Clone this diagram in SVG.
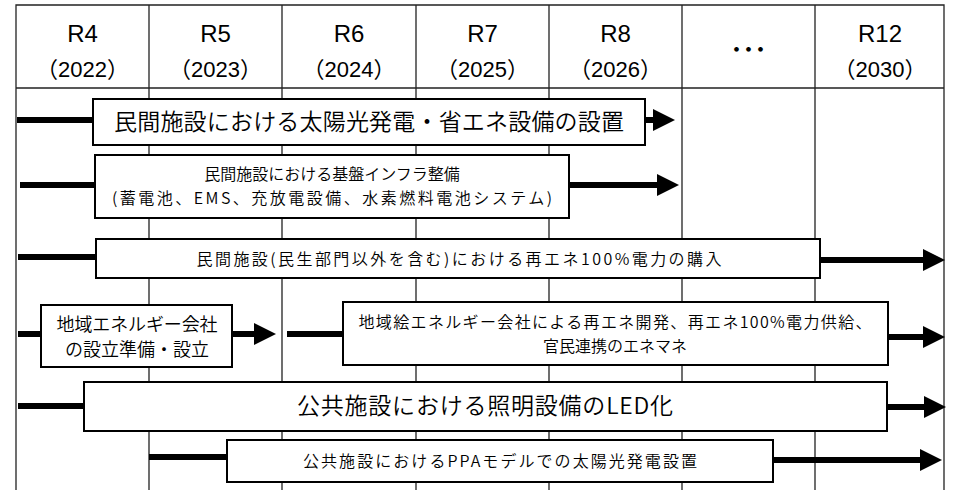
<svg xmlns="http://www.w3.org/2000/svg" width="953" height="490" viewBox="0 0 953 490">
<style>
.grid{stroke:#222;stroke-width:1.3;fill:none}
.hd{font-family:"Liberation Sans","Noto Sans CJK JP",sans-serif;font-size:24px;fill:#000;text-anchor:middle}
.yr{font-family:"Liberation Sans","Noto Sans CJK JP",sans-serif;font-size:22px;fill:#000;text-anchor:middle}
.box{fill:#fff;stroke:#000;stroke-width:2}
.t{font-family:"Noto Sans CJK JP DemiLight","Noto Sans CJK JP Light","Noto Sans CJK JP",sans-serif;font-weight:300;fill:#000;text-anchor:middle}
.bar{stroke:#000;stroke-width:6;fill:none}
</style>
<defs>
<marker id="ah" markerUnits="userSpaceOnUse" markerWidth="22" markerHeight="22" refX="0" refY="11" orient="auto" viewBox="0 0 22 22">
<path d="M0,0 L22,11 L0,22 Z" fill="#000"/>
</marker>
</defs>
<rect x="0" y="0" width="953" height="490" fill="#fff"/>
<g id="grid">
<path class="grid" d="M16,490 V5 H944 V490 M16,88 H944 M149,5 V490 M282,5 V490 M416,5 V490 M549,5 V490 M682,5 V490 M815,5 V490"/>
</g>
<g id="header">
<text class="hd" x="82.5" y="42">R4</text><text class="yr" x="82.5" y="77">（2022）</text>
<text class="hd" x="215.5" y="42">R5</text><text class="yr" x="215.5" y="77">（2023）</text>
<text class="hd" x="349" y="42">R6</text><text class="yr" x="349" y="77">（2024）</text>
<text class="hd" x="482.5" y="42">R7</text><text class="yr" x="482.5" y="77">（2025）</text>
<text class="hd" x="615.5" y="42">R8</text><text class="yr" x="615.5" y="77">（2026）</text>
<text class="hd" x="748.5" y="58" font-size="34" font-weight="bold">･･･</text>
<text class="hd" x="880" y="42">R12</text><text class="yr" x="880" y="77">（2030）</text>
</g>
<g id="connectors">
<path class="bar" d="M17,120 H93"/>
<path class="bar" d="M645,120 H653" marker-end="url(#ah)"/>
<path class="bar" d="M20,185 H95"/>
<path class="bar" d="M569,185 H657" marker-end="url(#ah)"/>
<path class="bar" d="M18,257 H96"/>
<path class="bar" d="M820,260 H923" marker-end="url(#ah)"/>
<path class="bar" d="M18,334 H41"/>
<path class="bar" d="M232,334 H254" marker-end="url(#ah)"/>
<path class="bar" d="M287,334 H343"/>
<path class="bar" d="M888,337 H923" marker-end="url(#ah)"/>
<path class="bar" d="M18,406 H84"/>
<path class="bar" d="M887,407 H924" marker-end="url(#ah)"/>
<path class="bar" d="M149,457 H227"/>
<path class="bar" d="M773,460 H920" marker-end="url(#ah)"/>
</g>
<g id="n1">
<rect class="box" x="93" y="99" width="552" height="46"/>
<text class="t" x="369" y="130" font-size="23" textLength="510">民間施設における太陽光発電・省エネ設備の設置</text>
</g>
<g id="n2">
<rect class="box" x="95" y="155" width="474" height="63"/>
<text class="t" x="332" y="180" font-size="16">民間施設における基盤インフラ整備</text>
<text class="t" x="332" y="204" font-size="16" textLength="440">(蓄電池、EMS、充放電設備、水素燃料電池システム)</text>
</g>
<g id="n3">
<rect class="box" x="96" y="239" width="724" height="39"/>
<text class="t" x="459" y="265" font-size="16" textLength="525">民間施設(民生部門以外を含む)における再エネ100%電力の購入</text>
</g>
<g id="n4a">
<rect class="box" x="41" y="305" width="191" height="62"/>
<text class="t" x="137" y="331" font-size="18" textLength="161">地域エネルギー会社</text>
<text class="t" x="137" y="356" font-size="18">の設立準備・設立</text>
</g>
<g id="n4b">
<rect class="box" x="343" y="302" width="545" height="63"/>
<text class="t" x="615" y="328" font-size="16" textLength="513">地域絵エネルギー会社による再エネ開発、再エネ100%電力供給、</text>
<text class="t" x="615" y="352" font-size="16">官民連携のエネマネ</text>
</g>
<g id="n5">
<rect class="box" x="84" y="382" width="803" height="49"/>
<text class="t" x="485" y="414" font-size="23" textLength="376">公共施設における照明設備のLED化</text>
</g>
<g id="n6">
<rect class="box" x="227" y="440" width="546" height="42"/>
<text class="t" x="500" y="467" font-size="16" textLength="394">公共施設におけるPPAモデルでの太陽光発電設置</text>
</g>
</svg>
